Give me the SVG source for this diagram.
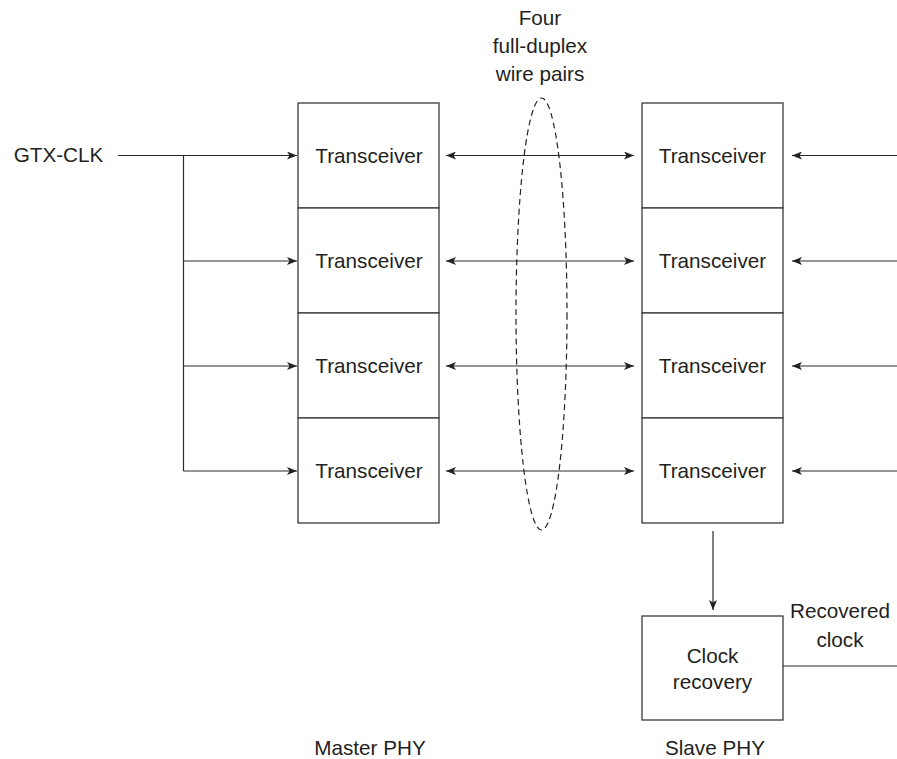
<svg xmlns="http://www.w3.org/2000/svg" width="897" height="759" viewBox="0 0 897 759">
<style>
text{font-family:"Liberation Sans",Arial,sans-serif;font-size:20.7px;fill:#231f20;text-anchor:middle}
.box{fill:#fff;stroke:#3a3a3a;stroke-width:1.3}
.ln{fill:none;stroke:#2a2a2a;stroke-width:1.2}
</style>
<defs>
<marker id="ah" viewBox="0 0 10 8" refX="10" refY="4" markerWidth="10" markerHeight="8" markerUnits="userSpaceOnUse" orient="auto-start-reverse">
<path d="M0,0 L10,4 L0,8 L2.5,4 Z" fill="#222"/>
</marker>
</defs>
<rect width="897" height="759" fill="#fff"/>
<g id="master">
<g id="m1"><rect class="box" x="298" y="103" width="141" height="105"/><text x="369" y="163">Transceiver</text></g>
<g id="m2"><rect class="box" x="298" y="208" width="141" height="105"/><text x="369" y="268">Transceiver</text></g>
<g id="m3"><rect class="box" x="298" y="313" width="141" height="105"/><text x="369" y="373">Transceiver</text></g>
<g id="m4"><rect class="box" x="298" y="418" width="141" height="105"/><text x="369" y="478">Transceiver</text></g>
</g>
<g id="slave">
<g id="s1"><rect class="box" x="642" y="103" width="141" height="105"/><text x="712.5" y="163">Transceiver</text></g>
<g id="s2"><rect class="box" x="642" y="208" width="141" height="105"/><text x="712.5" y="268">Transceiver</text></g>
<g id="s3"><rect class="box" x="642" y="313" width="141" height="105"/><text x="712.5" y="373">Transceiver</text></g>
<g id="s4"><rect class="box" x="642" y="418" width="141" height="105"/><text x="712.5" y="478">Transceiver</text></g>
</g>
<g id="clockrec"><rect class="box" x="642" y="616" width="141" height="104"/><text x="712.5" y="663">Clock</text><text x="712.5" y="689">recovery</text></g>
<g id="wires"><ellipse cx="541.5" cy="314" rx="25.5" ry="216" fill="none" stroke="#222" stroke-width="1.2" stroke-dasharray="6,4"/></g>
<g id="labels">
<text x="58.5" y="162">GTX-CLK</text>
<text x="540" y="25">Four</text>
<text x="540" y="53">full-duplex</text>
<text x="540" y="81">wire pairs</text>
<text x="840" y="618">Recovered</text>
<text x="840" y="647">clock</text>
<text x="370" y="755">Master PHY</text>
<text x="715" y="755">Slave PHY</text>
</g>
<g id="connectors">
<line class="ln" x1="118" y1="155.5" x2="297" y2="155.5" marker-end="url(#ah)"/>
<polyline class="ln" points="183.5,155.5 183.5,471"/>
<line class="ln" x1="183.5" y1="261" x2="297" y2="261" marker-end="url(#ah)"/>
<line class="ln" x1="183.5" y1="366" x2="297" y2="366" marker-end="url(#ah)"/>
<line class="ln" x1="183.5" y1="471" x2="297" y2="471" marker-end="url(#ah)"/>
<line class="ln" x1="446" y1="155.5" x2="634" y2="155.5" marker-start="url(#ah)" marker-end="url(#ah)"/>
<line class="ln" x1="446" y1="261" x2="634" y2="261" marker-start="url(#ah)" marker-end="url(#ah)"/>
<line class="ln" x1="446" y1="366" x2="634" y2="366" marker-start="url(#ah)" marker-end="url(#ah)"/>
<line class="ln" x1="446" y1="471" x2="634" y2="471" marker-start="url(#ah)" marker-end="url(#ah)"/>
<line class="ln" x1="897" y1="155.5" x2="792" y2="155.5" marker-end="url(#ah)"/>
<line class="ln" x1="897" y1="261" x2="792" y2="261" marker-end="url(#ah)"/>
<line class="ln" x1="897" y1="366" x2="792" y2="366" marker-end="url(#ah)"/>
<line class="ln" x1="897" y1="471" x2="792" y2="471" marker-end="url(#ah)"/>
<line class="ln" x1="713" y1="531" x2="713" y2="610" marker-end="url(#ah)"/>
<line class="ln" x1="783" y1="666" x2="897" y2="666"/>
</g>
</svg>
